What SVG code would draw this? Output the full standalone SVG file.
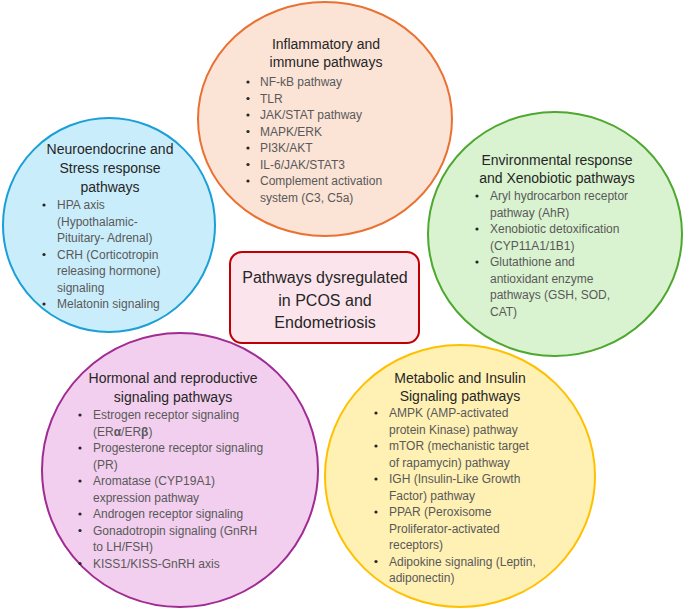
<svg xmlns="http://www.w3.org/2000/svg" width="685" height="609" viewBox="0 0 685 609">
<style>
  .node-shape { stroke-width: 2; }
  .title { font-family: "Liberation Sans", Arial, sans-serif; font-size: 14px; fill: #262626; text-anchor: middle; }
  .item { font-family: "Liberation Sans", Arial, sans-serif; font-size: 12px; fill: #595959; }
  .bullet { fill: #262626; }
  .center { font-family: "Liberation Sans", Arial, sans-serif; font-size: 16px; fill: #262626; text-anchor: middle; }
</style>
<defs>
  <circle id="dot" r="1.6"/>
</defs>
<rect width="685" height="609" fill="#ffffff"/>

<g id="connectors"></g>

<g id="inflammatory">
  <ellipse class="node-shape" cx="325" cy="119" rx="127" ry="117" fill="#fbe3d6" stroke="#e97132"/>
  <text class="title" x="326" y="49">Inflammatory and</text>
  <text class="title" x="326" y="67">immune pathways</text>
  <g class="bullet">
    <use href="#dot" x="248" y="82"/><use href="#dot" x="248" y="98.5"/><use href="#dot" x="248" y="115"/>
    <use href="#dot" x="248" y="131.5"/><use href="#dot" x="248" y="148"/><use href="#dot" x="248" y="164.5"/>
    <use href="#dot" x="248" y="181"/>
  </g>
  <text class="item" x="260" y="86">NF-kB pathway</text>
  <text class="item" x="260" y="102.5">TLR</text>
  <text class="item" x="260" y="119">JAK/STAT pathway</text>
  <text class="item" x="260" y="135.5">MAPK/ERK</text>
  <text class="item" x="260" y="152">PI3K/AKT</text>
  <text class="item" x="260" y="168.5">IL-6/JAK/STAT3</text>
  <text class="item" x="260" y="185">Complement activation</text>
  <text class="item" x="260" y="201.5">system (C3, C5a)</text>
</g>

<g id="neuroendocrine">
  <ellipse class="node-shape" cx="109" cy="225" rx="106" ry="107" fill="#caedfb" stroke="#1b9fd8"/>
  <text class="title" x="110" y="154">Neuroendocrine and</text>
  <text class="title" x="110" y="173">Stress response</text>
  <text class="title" x="110" y="192">pathways</text>
  <g class="bullet">
    <use href="#dot" x="44" y="205"/><use href="#dot" x="44" y="254.5"/><use href="#dot" x="44" y="304"/>
  </g>
  <text class="item" x="57" y="209">HPA axis</text>
  <text class="item" x="57" y="225.5">(Hypothalamic-</text>
  <text class="item" x="57" y="242">Pituitary- Adrenal)</text>
  <text class="item" x="57" y="258.5">CRH (Corticotropin</text>
  <text class="item" x="57" y="275">releasing hormone)</text>
  <text class="item" x="57" y="291.5">signaling</text>
  <text class="item" x="57" y="308">Melatonin signaling</text>
</g>

<g id="environmental">
  <ellipse class="node-shape" cx="555" cy="234" rx="127" ry="122" fill="#d9f2d0" stroke="#4ea72e"/>
  <text class="title" x="557" y="165">Environmental response</text>
  <text class="title" x="557" y="183">and Xenobiotic pathways</text>
  <g class="bullet">
    <use href="#dot" x="477" y="196"/><use href="#dot" x="477" y="229"/><use href="#dot" x="477" y="262"/>
  </g>
  <text class="item" x="490" y="200">Aryl hydrocarbon receptor</text>
  <text class="item" x="490" y="216.5">pathway (AhR)</text>
  <text class="item" x="490" y="233">Xenobiotic detoxification</text>
  <text class="item" x="490" y="249.5">(CYP11A1/1B1)</text>
  <text class="item" x="490" y="266">Glutathione and</text>
  <text class="item" x="490" y="282.5">antioxidant enzyme</text>
  <text class="item" x="490" y="299">pathways (GSH, SOD,</text>
  <text class="item" x="490" y="315.5">CAT)</text>
</g>

<g id="center-box">
  <rect class="node-shape" x="230" y="252" width="189" height="91" rx="12" ry="12" fill="#fbe4ec" stroke="#c00000"/>
  <text class="center" x="325" y="283">Pathways dysregulated</text>
  <text class="center" x="325" y="306">in PCOS and</text>
  <text class="center" x="325" y="328">Endometriosis</text>
</g>

<g id="hormonal">
  <ellipse class="node-shape" cx="180" cy="470" rx="138" ry="137" fill="#f2cfee" stroke="#a02b93"/>
  <text class="title" x="173" y="383">Hormonal and reproductive</text>
  <text class="title" x="173" y="402">signaling pathways</text>
  <g class="bullet">
    <use href="#dot" x="80" y="415"/><use href="#dot" x="80" y="448"/><use href="#dot" x="80" y="481"/>
    <use href="#dot" x="80" y="514"/><use href="#dot" x="80" y="530.5"/><use href="#dot" x="80" y="563.5"/>
  </g>
  <text class="item" x="93" y="419">Estrogen receptor signaling</text>
  <text class="item" x="93" y="435.5">(ER<tspan font-weight="bold">α</tspan>/ER<tspan font-weight="bold">β</tspan>)</text>
  <text class="item" x="93" y="452">Progesterone receptor signaling</text>
  <text class="item" x="93" y="468.5">(PR)</text>
  <text class="item" x="93" y="485">Aromatase (CYP19A1)</text>
  <text class="item" x="93" y="501.5">expression pathway</text>
  <text class="item" x="93" y="518">Androgen receptor signaling</text>
  <text class="item" x="93" y="534.5">Gonadotropin signaling (GnRH</text>
  <text class="item" x="93" y="551">to LH/FSH)</text>
  <text class="item" x="93" y="567.5">KISS1/KISS-GnRH axis</text>
</g>

<g id="metabolic">
  <ellipse class="node-shape" cx="460" cy="476" rx="135" ry="131" fill="#fff0b4" stroke="#ffc000"/>
  <text class="title" x="460" y="383">Metabolic and Insulin</text>
  <text class="title" x="460" y="401">Signaling pathways</text>
  <g class="bullet">
    <use href="#dot" x="376" y="413"/><use href="#dot" x="376" y="446"/><use href="#dot" x="376" y="479"/>
    <use href="#dot" x="376" y="512"/><use href="#dot" x="376" y="561.5"/>
  </g>
  <text class="item" x="389" y="417">AMPK (AMP-activated</text>
  <text class="item" x="389" y="433.5">protein Kinase) pathway</text>
  <text class="item" x="389" y="450">mTOR (mechanistic target</text>
  <text class="item" x="389" y="466.5">of rapamycin) pathway</text>
  <text class="item" x="389" y="483">IGH (Insulin-Like Growth</text>
  <text class="item" x="389" y="499.5">Factor) pathway</text>
  <text class="item" x="389" y="516">PPAR (Peroxisome</text>
  <text class="item" x="389" y="532.5">Proliferator-activated</text>
  <text class="item" x="389" y="549">receptors)</text>
  <text class="item" x="389" y="565.5">Adipokine signaling (Leptin,</text>
  <text class="item" x="389" y="582">adiponectin)</text>
</g>
</svg>
